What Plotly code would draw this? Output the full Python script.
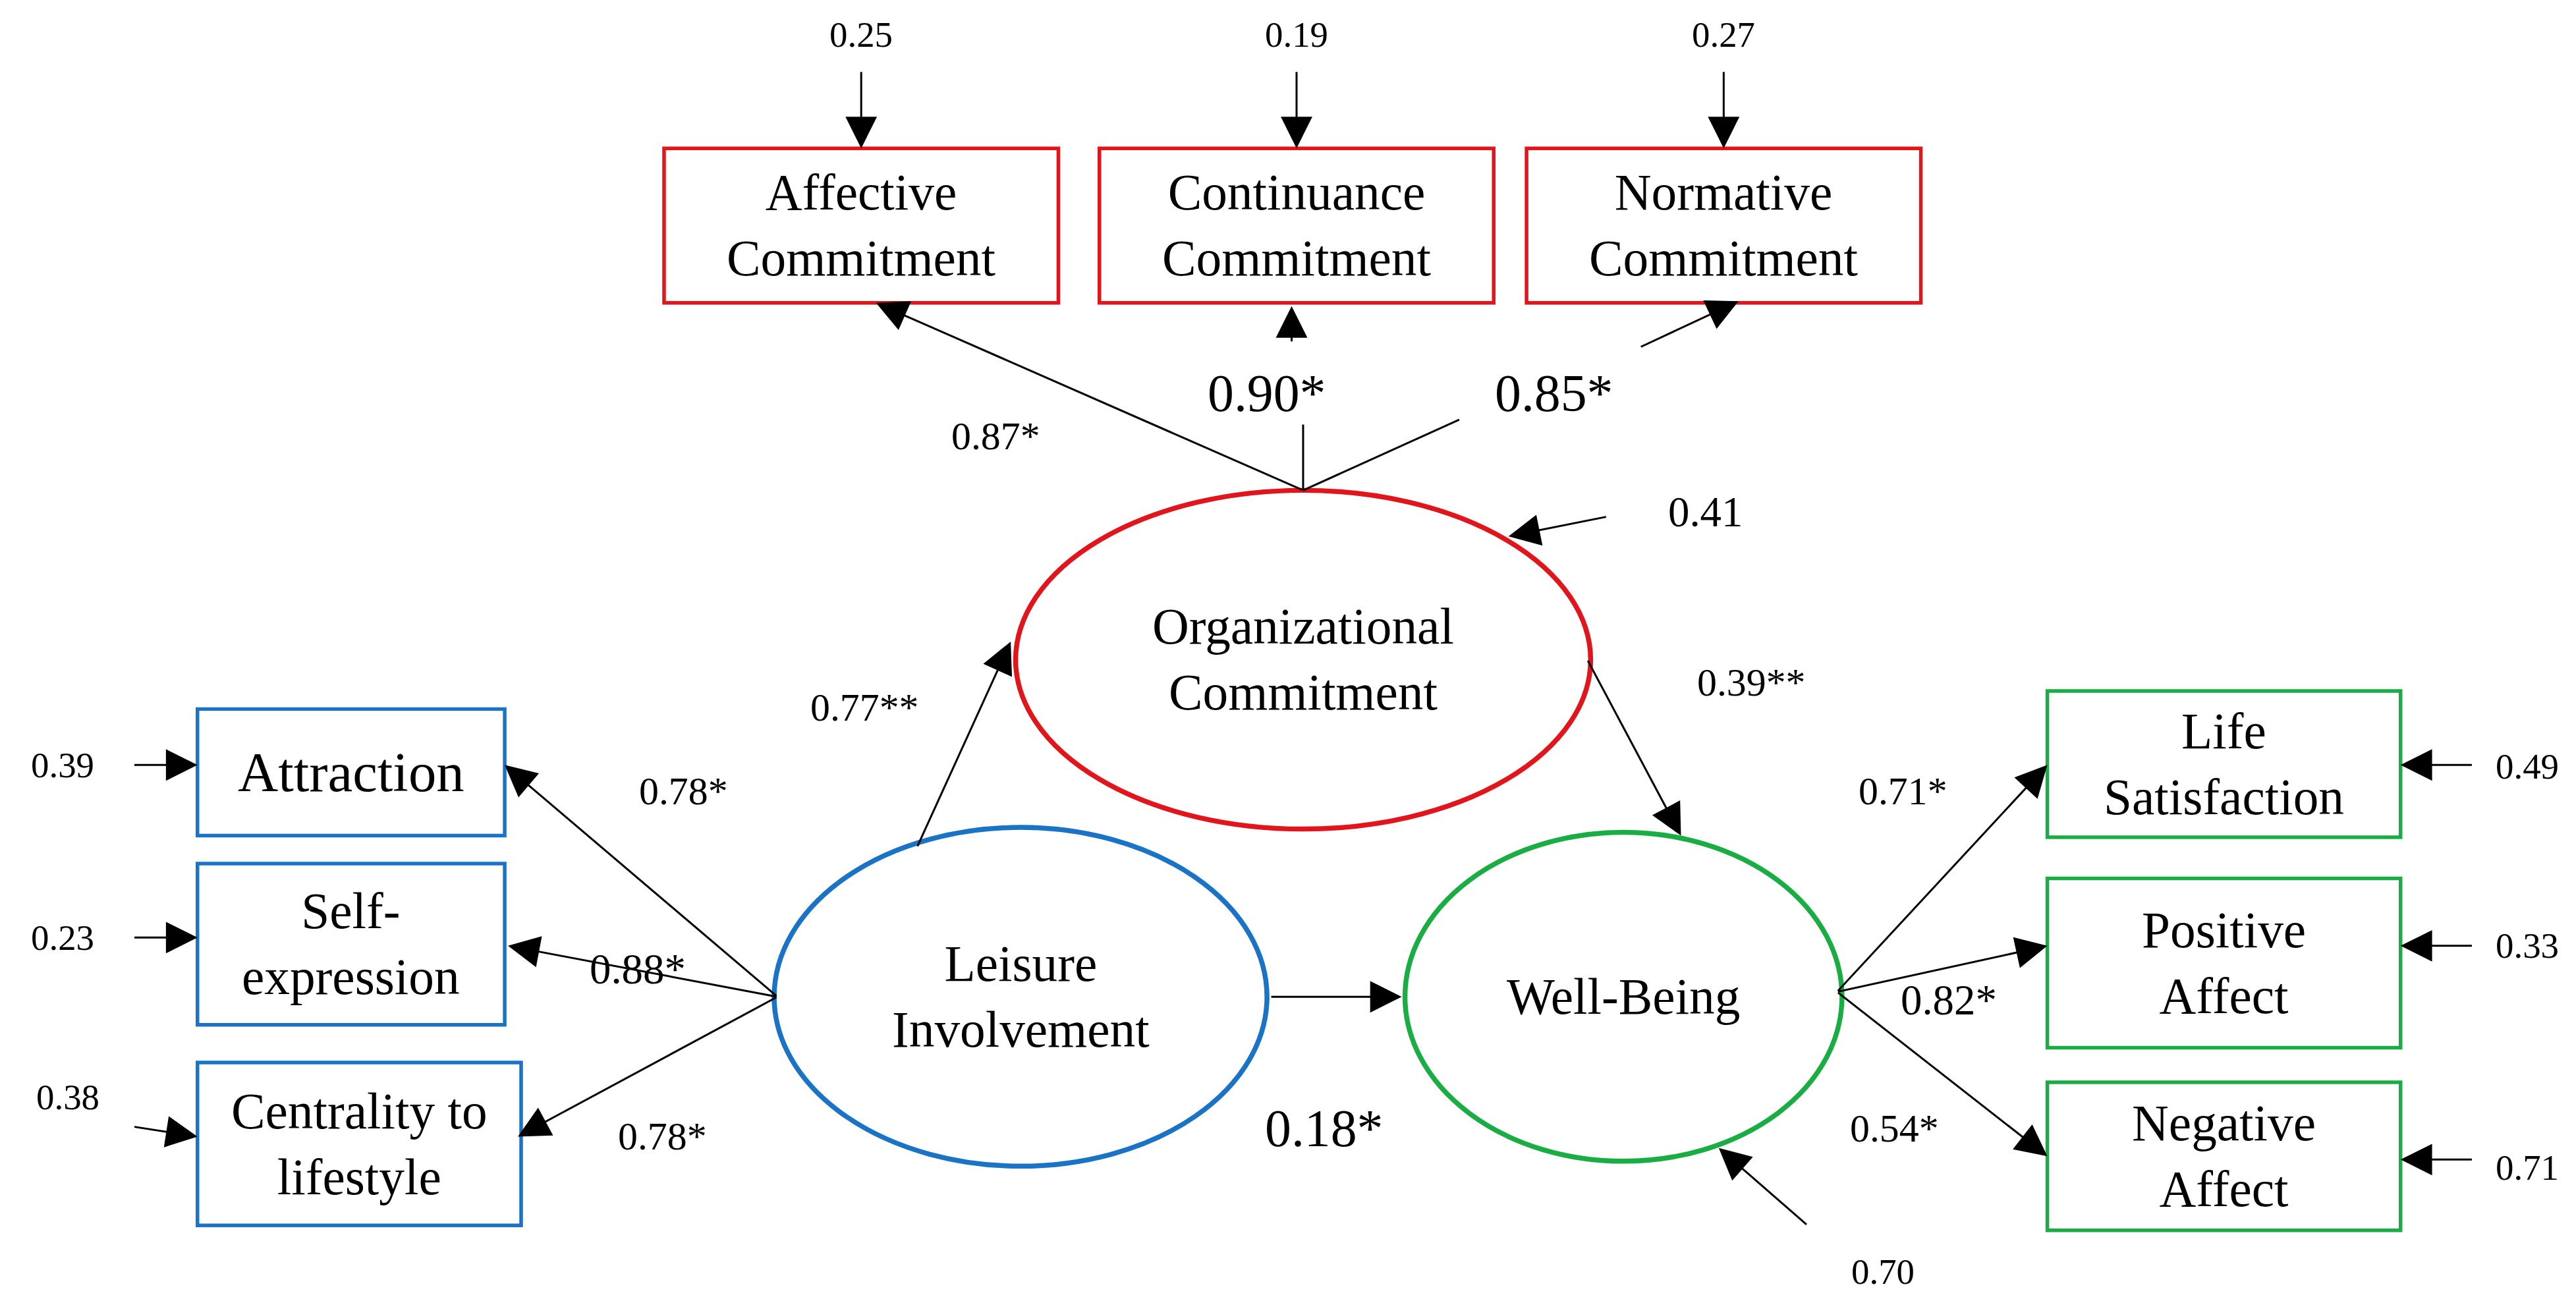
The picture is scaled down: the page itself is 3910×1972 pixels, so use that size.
import plotly.graph_objects as go

S = 3910 / 1568  # picture units -> pixels

# ---- data (labels and estimates) ----
red_boxes = ["Affective<br>Commitment", "Continuance<br>Commitment", "Normative<br>Commitment"]
red_errors = ["0.25", "0.19", "0.27"]
red_loadings = ["0.87*", "0.90*", "0.85*"]
blue_boxes = ["Attraction", "Self-<br>expression", "Centrality to<br>lifestyle"]
blue_errors = ["0.39", "0.23", "0.38"]
blue_loadings = ["0.78*", "0.88*", "0.78*"]
green_boxes = ["Life<br>Satisfaction", "Positive<br>Affect", "Negative<br>Affect"]
green_errors = ["0.49", "0.33", "0.71"]
green_loadings = ["0.71*", "0.82*", "0.54*"]
latent = ["Organizational<br>Commitment", "Leisure<br>Involvement", "Well-Being"]
paths = ["0.77**", "0.39**", "0.18*"]
latent_errors = ["0.41", "0.70"]

RED, BLUE, GREEN = "#e0161c", "#1a73c4", "#1aad44"
FONT = "Liberation Serif"

fig = go.Figure()
shapes, ann = [], []

def box(x0, x1, y0, y1, c, text, size=31):
    shapes.append(dict(type="rect", x0=x0, x1=x1, y0=y0, y1=y1,
                       line=dict(color=c, width=2.2 * S)))
    ann.append(dict(x=(x0 + x1) / 2, y=(y0 + y1) / 2, text=text, showarrow=False,
                    font=dict(size=size * S, family=FONT, color="black")))

def ell(cx, cy, rx, ry, c, text):
    shapes.append(dict(type="circle", x0=cx - rx, x1=cx + rx, y0=cy - ry, y1=cy + ry,
                       line=dict(color=c, width=3 * S)))
    ann.append(dict(x=cx, y=cy, text=text, showarrow=False,
                    font=dict(size=31 * S, family=FONT, color="black")))

def arrow(x0, y0, x1, y1):
    ann.append(dict(x=x1, y=y1, ax=x0, ay=y0, xref="x", yref="y", axref="x", ayref="y",
                    text="", showarrow=True, arrowhead=2, arrowsize=3.2,
                    arrowwidth=1.2 * S, arrowcolor="black"))

def line(x0, y0, x1, y1):
    shapes.append(dict(type="line", x0=x0, y0=y0, x1=x1, y1=y1,
                       line=dict(color="black", width=1.2 * S)))

def label(x, y, text, size=24):
    ann.append(dict(x=x, y=y, text=text, showarrow=False,
                    font=dict(size=size * S, family=FONT, color="black")))

# red indicators
red_x = [(401, 641), (666, 906), (926, 1166)]
for (a, b), t, e in zip(red_x, red_boxes, red_errors):
    box(a, b, 87, 181, RED, t)
    label((a + b) / 2, 18, e, 22)
    arrow((a + b) / 2, 40, (a + b) / 2, 87)

# blue indicators
blue_pos = [(117, 304, 428, 505), (117, 304, 522, 620), (117, 314, 643, 742)]
for (a, b, c, d), t, e in zip(blue_pos, blue_boxes, blue_errors):
    box(a, b, c, d, BLUE, t, 34 if t == "Attraction" else 31)
label(35, 462, blue_errors[0], 22); arrow(78, 462, 117, 462)
label(35, 567, blue_errors[1], 22); arrow(78, 567, 117, 567)
label(38, 664, blue_errors[2], 22); arrow(78, 682, 117, 688)

# green indicators
green_pos = [(1243, 1458, 417, 506), (1243, 1458, 531, 634), (1243, 1458, 655, 745)]
for (a, b, c, d), t in zip(green_pos, green_boxes):
    box(a, b, c, d, GREEN, t)
label(1535, 463, green_errors[0], 22); arrow(1502, 462, 1458, 462)
label(1535, 572, green_errors[1], 22); arrow(1502, 572, 1458, 572)
label(1535, 707, green_errors[2], 22); arrow(1502, 702, 1458, 702)

# latent variables
ell(790, 398, 175, 103, RED, latent[0])
ell(618, 603, 150, 103, BLUE, latent[1])
ell(985, 603, 133, 100, GREEN, latent[2])

# organizational commitment loadings
arrow(790, 295, 530, 181); label(603, 262, red_loadings[0], 24)
line(790, 295, 790, 255); arrow(783, 205, 783, 183); label(768, 236, red_loadings[1], 32)
line(790, 295, 885, 252); arrow(995, 208, 1055, 180); label(943, 236, red_loadings[2], 32)
label(1035, 308, latent_errors[0], 26); arrow(975, 311, 915, 323)

# structural paths
arrow(555, 512, 612, 387); label(523, 427, paths[0], 24)
arrow(963, 398, 1020, 505); label(1063, 412, paths[1], 24)
arrow(770, 603, 850, 603); label(803, 683, paths[2], 32)

# leisure loadings
arrow(470, 603, 304, 462); label(413, 478, blue_loadings[0], 24)
arrow(470, 603, 306, 572); label(385, 586, blue_loadings[1], 26)
arrow(470, 603, 312, 688); label(400, 688, blue_loadings[2], 24)

# well-being loadings
arrow(1115, 600, 1243, 462); label(1155, 478, green_loadings[0], 24)
arrow(1115, 600, 1243, 572); label(1183, 605, green_loadings[1], 26)
arrow(1115, 600, 1243, 700); label(1150, 683, green_loadings[2], 24)
label(1143, 770, latent_errors[1], 22); arrow(1097, 742, 1043, 695)

fig.update_layout(
    width=3910, height=1972, margin=dict(l=0, r=0, t=0, b=0),
    plot_bgcolor="white", paper_bgcolor="white",
    shapes=shapes, annotations=ann, showlegend=False,
    xaxis=dict(range=[0, 1568], visible=False, fixedrange=True),
    yaxis=dict(range=[790, 0], visible=False, fixedrange=True),
)
fig.write_html("out.html")
